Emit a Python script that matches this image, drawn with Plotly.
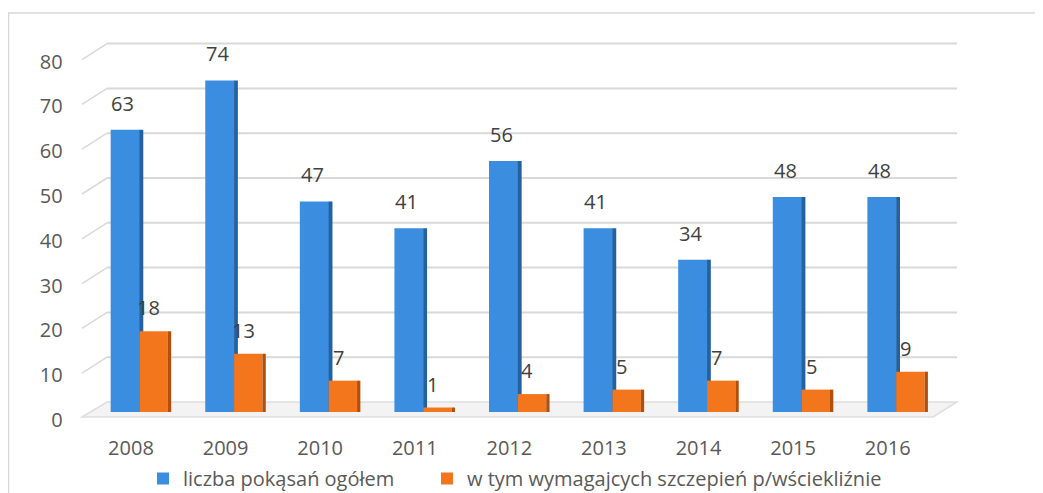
import plotly.graph_objects as go

years = ["2008", "2009", "2010", "2011", "2012", "2013", "2014", "2015", "2016"]
total_bites = [63, 74, 47, 41, 56, 41, 34, 48, 48]
needing_vaccine = [18, 13, 7, 1, 4, 5, 7, 5, 9]
series_names = ["liczba pokąsań ogółem", "w tym wymagajcych szczepień p/wściekliźnie"]
y_ticks = [0, 10, 20, 30, 40, 50, 60, 70, 80]

W, H = 1043, 493
BODY = 8  # page offset of the plot div
L, R, T, B = 60, 88, 20, 73
PW = W - L - R
PH = H - T - B


def px(xpage):
    return (xpage - BODY - L) / PW


FONT = "Open Sans, Lato, sans-serif"
BLUE, BLUE_SIDE = "#3b8ddf", "#25609f"
ORANGE, ORANGE_SIDE = "#f4761c", "#b24f0c"
LABEL_FONT = dict(size=20, color="#404040", family=FONT)

fig = go.Figure()
fig.add_trace(go.Bar(x=years, y=total_bites, name=series_names[0], legend="legend",
                     marker=dict(color=BLUE, line=dict(width=0)),
                     offset=-0.215, width=0.31))
fig.add_trace(go.Bar(x=years, y=total_bites, showlegend=False, hoverinfo="skip",
                     marker=dict(color=BLUE_SIDE, line=dict(width=0)),
                     offset=0.09, width=0.04))
fig.add_trace(go.Bar(x=years, y=needing_vaccine, name=series_names[1], legend="legend2",
                     marker=dict(color=ORANGE, line=dict(width=0)),
                     offset=0.09, width=0.30))
fig.add_trace(go.Bar(x=years, y=needing_vaccine, showlegend=False, hoverinfo="skip",
                     marker=dict(color=ORANGE_SIDE, line=dict(width=0)),
                     offset=0.39, width=0.035))

# data labels (3-D chart labels float a little above the bars);
# x uses the category serial number of each year
for i, v in enumerate(total_bites):
    fig.add_annotation(x=i, y=v, xref="x", yref="y", text=str(v), showarrow=False,
                       yanchor="bottom", xshift=-8, yshift=11, font=LABEL_FONT)
for i, v in enumerate(needing_vaccine):
    fig.add_annotation(x=i, y=v, xref="x", yref="y", text=str(v), showarrow=False,
                       yanchor="bottom", xshift=18, yshift=8, font=LABEL_FONT)

fx0, fx1 = px(83.7), px(935)
bx0, bx1 = px(107), px(957)
scale = 4.48
front_zero = 412 - BODY          # paper px of value 0 on the front plane
front_range = [(front_zero - (T + PH)) / scale, (front_zero - T) / scale]
back_off = 10 / scale            # back wall sits 10 px above the front
label_off = -6 / scale           # labels/diagonal start 6 px below the front

shapes = []
shapes.append(dict(type="path", xref="paper", yref="y", layer="below",
                   path=(f"M {px(82)},{-5 / scale} L {bx0},{back_off} "
                         f"L {bx1},{back_off} L {px(933)},{-5 / scale} Z"),
                   fillcolor="#f3f3f3", line=dict(color="#dedede", width=1.5)))
for v in y_ticks:
    if v > 0:
        shapes.append(dict(type="line", xref="paper", yref="y", layer="below",
                           x0=bx0, x1=bx1, y0=v + back_off, y1=v + back_off,
                           line=dict(color="#d9d9d9", width=2)))
        shapes.append(dict(type="line", xref="paper", yref="y", layer="below",
                           x0=px(82), y0=v + label_off, x1=bx0, y1=v + back_off,
                           line=dict(color="#d9d9d9", width=1.5)))
# outer chart border
shapes.append(dict(type="rect", xref="paper", yref="paper", layer="below",
                   x0=px(8.5), y0=-0.5, x1=1.3, y1=(T + PH - (13 - BODY)) / PH,
                   line=dict(color="#d6d6d6", width=1.5), fillcolor="rgba(0,0,0,0)"))

legend_common = dict(orientation="h", xanchor="left", yref="container",
                     y=1 - (459 - BODY) / H, yanchor="top",
                     font=dict(size=20, color="#595959", family=FONT),
                     itemwidth=30, bgcolor="rgba(0,0,0,0)")

fig.update_layout(
    width=W, height=H,
    margin=dict(l=L, r=R, t=T, b=B, autoexpand=False),
    paper_bgcolor="white", plot_bgcolor="rgba(0,0,0,0)",
    barmode="overlay",
    font=dict(family=FONT, color="#595959"),
    xaxis=dict(domain=[fx0, fx1], type="category", range=[-0.5, 8.5],
               showgrid=False, showline=False, zeroline=False, ticks="",
               tickfont=dict(size=20, color="#595959", family=FONT),
               ticklabelstandoff=6, automargin=False),
    yaxis=dict(range=front_range, tickvals=y_ticks, showgrid=False,
               showline=False, zeroline=False, ticks="",
               tickfont=dict(size=20, color="#595959", family=FONT),
               ticklabelstandoff=20, ticklabelshift=8, automargin=False),
    showlegend=True,
    legend=dict(x=px(143), **legend_common),
    legend2=dict(x=px(427), **legend_common),
    shapes=shapes,
)

fig.write_html("out.html")
